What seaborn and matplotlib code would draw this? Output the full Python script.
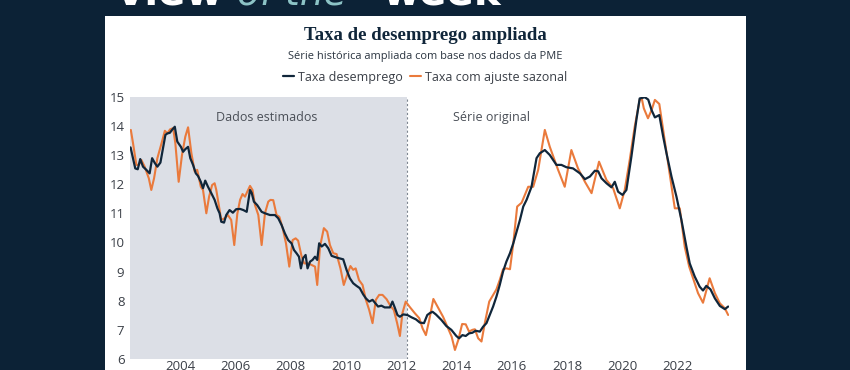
import numpy as np
import pandas as pd
import matplotlib
matplotlib.use('Agg')
import matplotlib.pyplot as plt
import seaborn as sns
from matplotlib.patches import Rectangle

# valores (ano decimal, taxa %)
anos_desemp = [2002.21, 2002.38, 2002.47, 2002.56, 2002.66, 2002.78, 2002.90, 2002.99, 2003.09, 2003.18,
               2003.29, 2003.39, 2003.47, 2003.54, 2003.63, 2003.71, 2003.81, 2003.90, 2004.03, 2004.11,
               2004.19, 2004.29, 2004.37, 2004.47, 2004.57, 2004.65, 2004.75, 2004.83, 2004.91, 2005.01,
               2005.13, 2005.25, 2005.35, 2005.43, 2005.49, 2005.59, 2005.67, 2005.79, 2005.91, 2006.03,
               2006.17, 2006.29, 2006.41, 2006.53, 2006.59, 2006.67, 2006.79, 2006.95, 2007.07, 2007.25,
               2007.43, 2007.55, 2007.67, 2007.79, 2007.91, 2008.03, 2008.12, 2008.21, 2008.30, 2008.37,
               2008.45, 2008.54, 2008.61, 2008.70, 2008.79, 2008.88, 2008.96, 2009.03, 2009.12, 2009.24,
               2009.36, 2009.48, 2009.66, 2009.90, 2010.02, 2010.14, 2010.26, 2010.38, 2010.50, 2010.62,
               2010.72, 2010.84, 2010.96, 2011.08, 2011.16, 2011.28, 2011.40, 2011.59, 2011.68, 2011.77,
               2011.86, 2011.95, 2012.07, 2012.22, 2012.37, 2012.53, 2012.67, 2012.82, 2012.94, 2013.04,
               2013.13, 2013.25, 2013.45, 2013.63, 2013.81, 2013.99, 2014.09, 2014.21, 2014.33, 2014.45,
               2014.57, 2014.69, 2014.84, 2014.96, 2015.08, 2015.20, 2015.32, 2015.44, 2015.56, 2015.68,
               2015.80, 2015.93, 2016.05, 2016.17, 2016.29, 2016.41, 2016.53, 2016.71, 2016.89, 2017.01,
               2017.19, 2017.37, 2017.61, 2017.79, 2017.97, 2018.21, 2018.46, 2018.64, 2018.82, 2019.00,
               2019.12, 2019.24, 2019.42, 2019.60, 2019.72, 2019.84, 2020.00, 2020.14, 2020.32, 2020.50,
               2020.62, 2020.81, 2020.93, 2021.05, 2021.17, 2021.33, 2021.47, 2021.59, 2021.77, 2021.95,
               2022.13, 2022.31, 2022.43, 2022.61, 2022.79, 2022.91, 2023.03, 2023.18, 2023.34, 2023.52,
               2023.70, 2023.82]
taxa_desemp = [13.26, 12.54, 12.51, 12.86, 12.60, 12.49, 12.37, 12.89, 12.72, 12.60,
               12.74, 13.28, 13.69, 13.74, 13.76, 13.86, 13.97, 13.46, 13.28, 13.11,
               13.20, 13.28, 12.89, 12.66, 12.37, 12.28, 12.08, 11.86, 12.12, 11.91,
               11.69, 11.46, 11.17, 11.00, 10.71, 10.68, 10.94, 11.11, 11.02, 11.14,
               11.15, 11.11, 11.05, 11.80, 11.70, 11.40, 11.28, 11.05, 11.00, 10.94,
               10.94, 10.83, 10.60, 10.31, 10.08, 9.97, 9.74, 9.63, 9.51, 9.11,
               9.46, 9.57, 9.11, 9.34, 9.40, 9.51, 9.40, 9.97, 9.86, 9.95,
               9.80, 9.54, 9.48, 9.42, 9.06, 8.77, 8.60, 8.51, 8.43, 8.22,
               8.08, 7.97, 8.03, 7.89, 7.80, 7.83, 7.77, 7.77, 7.97, 7.75,
               7.51, 7.45, 7.53, 7.51, 7.43, 7.36, 7.25, 7.23, 7.51, 7.58,
               7.62, 7.53, 7.34, 7.13, 7.00, 6.79, 6.71, 6.82, 6.79, 6.88,
               6.90, 6.97, 6.94, 7.11, 7.23, 7.51, 7.80, 8.14, 8.54, 9.00,
               9.34, 9.63, 9.97, 10.37, 10.77, 11.23, 11.46, 11.91, 12.89, 13.06,
               13.17, 13.00, 12.66, 12.66, 12.58, 12.54, 12.37, 12.17, 12.26, 12.46,
               12.44, 12.20, 12.03, 11.89, 12.08, 11.74, 11.63, 11.80, 12.94, 14.20,
               14.94, 14.98, 14.90, 14.54, 14.29, 14.37, 13.63, 13.06, 12.26, 11.57,
               10.77, 9.85, 9.28, 8.83, 8.48, 8.35, 8.51, 8.39, 8.08, 7.82,
               7.71, 7.80]

anos_ajuste = [2002.22, 2002.30, 2002.42, 2002.51, 2002.60, 2002.72, 2002.87, 2002.96, 2003.06, 2003.18,
               2003.33, 2003.45, 2003.54, 2003.64, 2003.75, 2003.83, 2003.95, 2004.07, 2004.19, 2004.29,
               2004.41, 2004.53, 2004.62, 2004.75, 2004.83, 2004.95, 2005.05, 2005.16, 2005.25, 2005.31,
               2005.40, 2005.49, 2005.61, 2005.73, 2005.85, 2005.96, 2006.07, 2006.17, 2006.26, 2006.35,
               2006.43, 2006.53, 2006.62, 2006.71, 2006.83, 2006.95, 2007.07, 2007.19, 2007.27, 2007.37,
               2007.49, 2007.59, 2007.71, 2007.83, 2007.95, 2008.07, 2008.18, 2008.27, 2008.39, 2008.49,
               2008.63, 2008.75, 2008.88, 2008.96, 2009.06, 2009.20, 2009.32, 2009.42, 2009.54, 2009.66,
               2009.80, 2009.92, 2010.04, 2010.16, 2010.26, 2010.35, 2010.47, 2010.60, 2010.72, 2010.84,
               2010.96, 2011.08, 2011.20, 2011.32, 2011.47, 2011.61, 2011.73, 2011.85, 2011.95, 2012.04,
               2012.16, 2012.31, 2012.49, 2012.65, 2012.77, 2012.89, 2013.01, 2013.16, 2013.31, 2013.51,
               2013.69, 2013.82, 2013.94, 2014.06, 2014.20, 2014.33, 2014.45, 2014.57, 2014.66, 2014.78,
               2014.90, 2015.02, 2015.18, 2015.32, 2015.44, 2015.56, 2015.68, 2015.80, 2015.93, 2016.05,
               2016.19, 2016.35, 2016.59, 2016.77, 2016.95, 2017.19, 2017.37, 2017.67, 2017.91, 2018.15,
               2018.39, 2018.64, 2018.88, 2019.15, 2019.42, 2019.66, 2019.90, 2020.08, 2020.26, 2020.44,
               2020.62, 2020.70, 2020.77, 2020.92, 2021.05, 2021.17, 2021.33, 2021.47, 2021.65, 2021.89,
               2022.07, 2022.25, 2022.41, 2022.61, 2022.73, 2022.91, 2023.15, 2023.34, 2023.52, 2023.70,
               2023.82]
taxa_ajuste = [13.86, 13.40, 12.66, 12.66, 12.83, 12.60, 12.20, 11.80, 12.20, 12.89,
               13.40, 13.83, 13.74, 13.88, 13.92, 13.40, 12.08, 13.00, 13.63, 13.95,
               13.06, 12.43, 12.49, 11.91, 11.80, 11.00, 11.57, 11.97, 12.03, 11.80,
               11.28, 10.77, 10.83, 10.94, 10.77, 9.91, 10.98, 11.46, 11.66, 11.57,
               11.74, 11.94, 11.80, 11.28, 10.94, 9.91, 11.00, 11.40, 11.46, 11.45,
               10.94, 10.88, 10.49, 9.97, 9.17, 10.08, 10.14, 10.06, 9.54, 9.28,
               9.28, 9.23, 9.17, 8.54, 9.85, 10.49, 10.37, 9.91, 9.63, 9.60,
               9.11, 8.54, 8.88, 9.19, 9.06, 9.11, 8.71, 8.54, 8.03, 7.68,
               7.23, 8.03, 8.20, 8.20, 8.05, 7.82, 7.68, 7.23, 6.79, 7.57,
               7.97, 7.78, 7.57, 7.40, 7.05, 6.82, 7.34, 8.06, 7.80, 7.45,
               7.05, 6.77, 6.31, 6.65, 7.20, 7.19, 6.94, 7.00, 7.02, 6.71,
               6.60, 7.23, 7.97, 8.20, 8.39, 8.71, 9.08, 9.11, 9.08, 9.97,
               11.23, 11.36, 11.91, 11.91, 12.49, 13.86, 13.28, 12.49, 11.91, 13.17,
               12.54, 12.08, 11.69, 12.77, 12.14, 11.86, 11.17, 11.80, 12.83, 13.97,
               14.89, 14.92, 14.60, 14.26, 14.54, 14.89, 14.75, 13.86, 12.72, 11.17,
               11.17, 9.85, 9.17, 8.60, 8.26, 7.93, 8.77, 8.26, 7.91, 7.74,
               7.51]

anos_ticks = [2004, 2006, 2008, 2010, 2012, 2014, 2016, 2018, 2020, 2022]
y_ticks = [6, 7, 8, 9, 10, 11, 12, 13, 14, 15]
inicio_original = 2012.2

navy = '#10263a'
laranja = '#ea7a3c'
fundo = '#0c2236'

df_desemp = pd.DataFrame({'ano': anos_desemp, 'taxa': taxa_desemp})
df_ajuste = pd.DataFrame({'ano': anos_ajuste, 'taxa': taxa_ajuste})

sns.set_theme(style='white')
plt.rcParams['font.family'] = ['Open Sans', 'DejaVu Sans']

fig = plt.figure(figsize=(8.5, 3.7), dpi=100)
fig.patch.set_facecolor(fundo)
fig.patches.append(Rectangle((105 / 850, 0), 641 / 850, 354 / 370, transform=fig.transFigure,
                             facecolor='white', edgecolor='none', zorder=-10))

# cabecalho cortado no topo
fig.text(115 / 850, 0.987, 'View', color='white', fontsize=29, fontweight='bold',
         family='DejaVu Sans', va='baseline')
fig.text(237 / 850, 0.987, 'of the', color='#8cc3c6', fontsize=27, style='italic',
         family='DejaVu Sans', va='baseline')
fig.text(383 / 850, 0.987, 'week', color='white', fontsize=29, fontweight='bold',
         family='DejaVu Sans', va='baseline')

fig.text(0.5, 1 - 36 / 370, 'Taxa de desemprego ampliada', ha='center', va='center',
         fontsize=13.5, fontweight='bold', family=['Liberation Serif', 'DejaVu Serif'], color=navy)
fig.text(0.5, 1 - 56 / 370, 'Série histórica ampliada com base nos dados da PME', ha='center',
         va='center', fontsize=7.9, color='#2a3440')

ax = fig.add_axes([130 / 850, 11 / 370, 599 / 850, 262.3 / 370])
ax.set_zorder(1)
ax.set_facecolor('white')
ax.axvspan(2002.19, inicio_original, color='#dcdfe6', lw=0, zorder=0)
ax.axvline(inicio_original, color='#7d8590', lw=0.8, ls=(0, (2, 2)), zorder=1)

sns.lineplot(data=df_ajuste, x='ano', y='taxa', ax=ax, color=laranja, lw=1.5,
             label='Taxa com ajuste sazonal', zorder=2)
sns.lineplot(data=df_desemp, x='ano', y='taxa', ax=ax, color=navy, lw=1.6,
             label='Taxa desemprego', zorder=3)

ax.text(2007.15, 14.3, 'Dados estimados', ha='center', va='center', fontsize=9, color='#4a4f57')
ax.text(2015.25, 14.3, 'Série original', ha='center', va='center', fontsize=9, color='#4a4f57')

ax.set_xlim(2002.19, 2023.85)
ax.set_ylim(6, 15)
ax.set_xticks(anos_ticks)
ax.set_xticklabels([str(a) for a in anos_ticks])
ax.set_yticks(y_ticks)
ax.tick_params(axis='both', length=0, labelsize=9.5, labelcolor='#3a3f47')
ax.tick_params(axis='x', pad=1)
ax.tick_params(axis='y', pad=4)
ax.set_xlabel('')
ax.set_ylabel('')
for s in ax.spines.values():
    s.set_visible(False)

handles, labels = ax.get_legend_handles_labels()
ax.get_legend().remove()
fig.legend(handles[::-1], labels[::-1], loc='center', bbox_to_anchor=(0.5, 1 - 77 / 370), ncol=2,
           frameon=False, fontsize=9, handlelength=0.9, handletextpad=0.3, columnspacing=0.6,
           labelcolor='#3a3f47')

fig.savefig('out.png', dpi=100, facecolor=fundo)
